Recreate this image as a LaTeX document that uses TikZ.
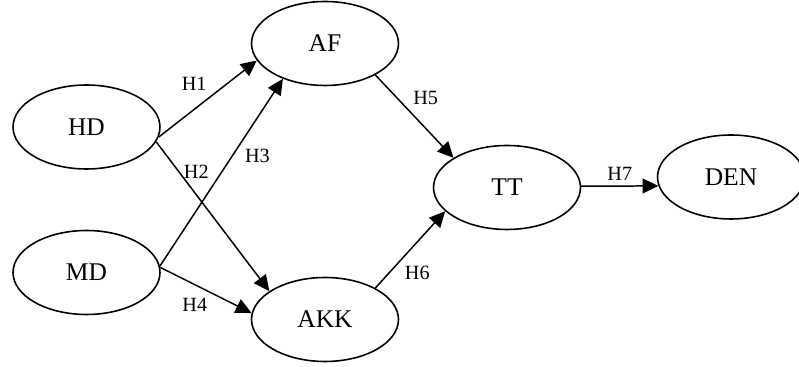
\documentclass[tikz,border=0pt]{standalone}
\usepackage{fontspec}
\setmainfont{Liberation Serif}
\usepackage{tikz}
\usetikzlibrary{shapes.geometric, arrows.meta}
\tikzstyle{construct} = [ellipse, draw=black, line width=0.9pt, minimum width=2.94cm, minimum height=1.68cm, inner sep=0pt, text centered, font=\fontsize{14.5}{17}\selectfont]
\tikzstyle{hyp} = [inner sep=2.5pt, font=\fontsize{11.5}{14}\selectfont]
\tikzstyle{arrow} = [line width=0.85pt, -{Triangle[length=9pt, width=8.5pt]}]

\begin{document}
\begin{tikzpicture}[x=0.02cm, y=-0.02cm]
    \useasboundingbox (0,0) rectangle (799,367);
    \node (hd) [construct] at (86.5,127) {HD};
    \node (md) [construct] at (86.5,272.5) {MD};
    \node (af) [construct] at (325,43.5) {AF};
    \node (akk) [construct] at (325,319.5) {AKK};
    \node (tt) [construct] at (507,187.5) {TT};
    \node (den) [construct] at (731,177) {DEN};
    \draw [arrow] (hd.-8) -- node (h1) [hyp, pos=0.54, anchor=south east]{H1} (af.194.7);
    \draw [arrow] (hd.-12) -- node (h2) [hyp, pos=0.2, anchor=west]{H2} (akk.153);
    \draw [arrow] (md.5) -- node (h3) [hyp, pos=0.65, anchor=north west]{H3} (af.220.3);
    \draw [arrow] (md.4) -- node (h4) [hyp, pos=0.57, anchor=north east]{H4} (akk.175);
    \draw [arrow] (af.-32.4) -- node (h5) [hyp, pos=0.42, anchor=south west]{H5} (tt.151.8);
    \draw [arrow] (akk.32.8) -- node (h6) [hyp, pos=0.35, anchor=north west]{H6} (tt.201.9);
    \draw [arrow] (tt.1) -- node (h7) [hyp, anchor=south]{H7} (den.187);
\end{tikzpicture}
\end{document}
